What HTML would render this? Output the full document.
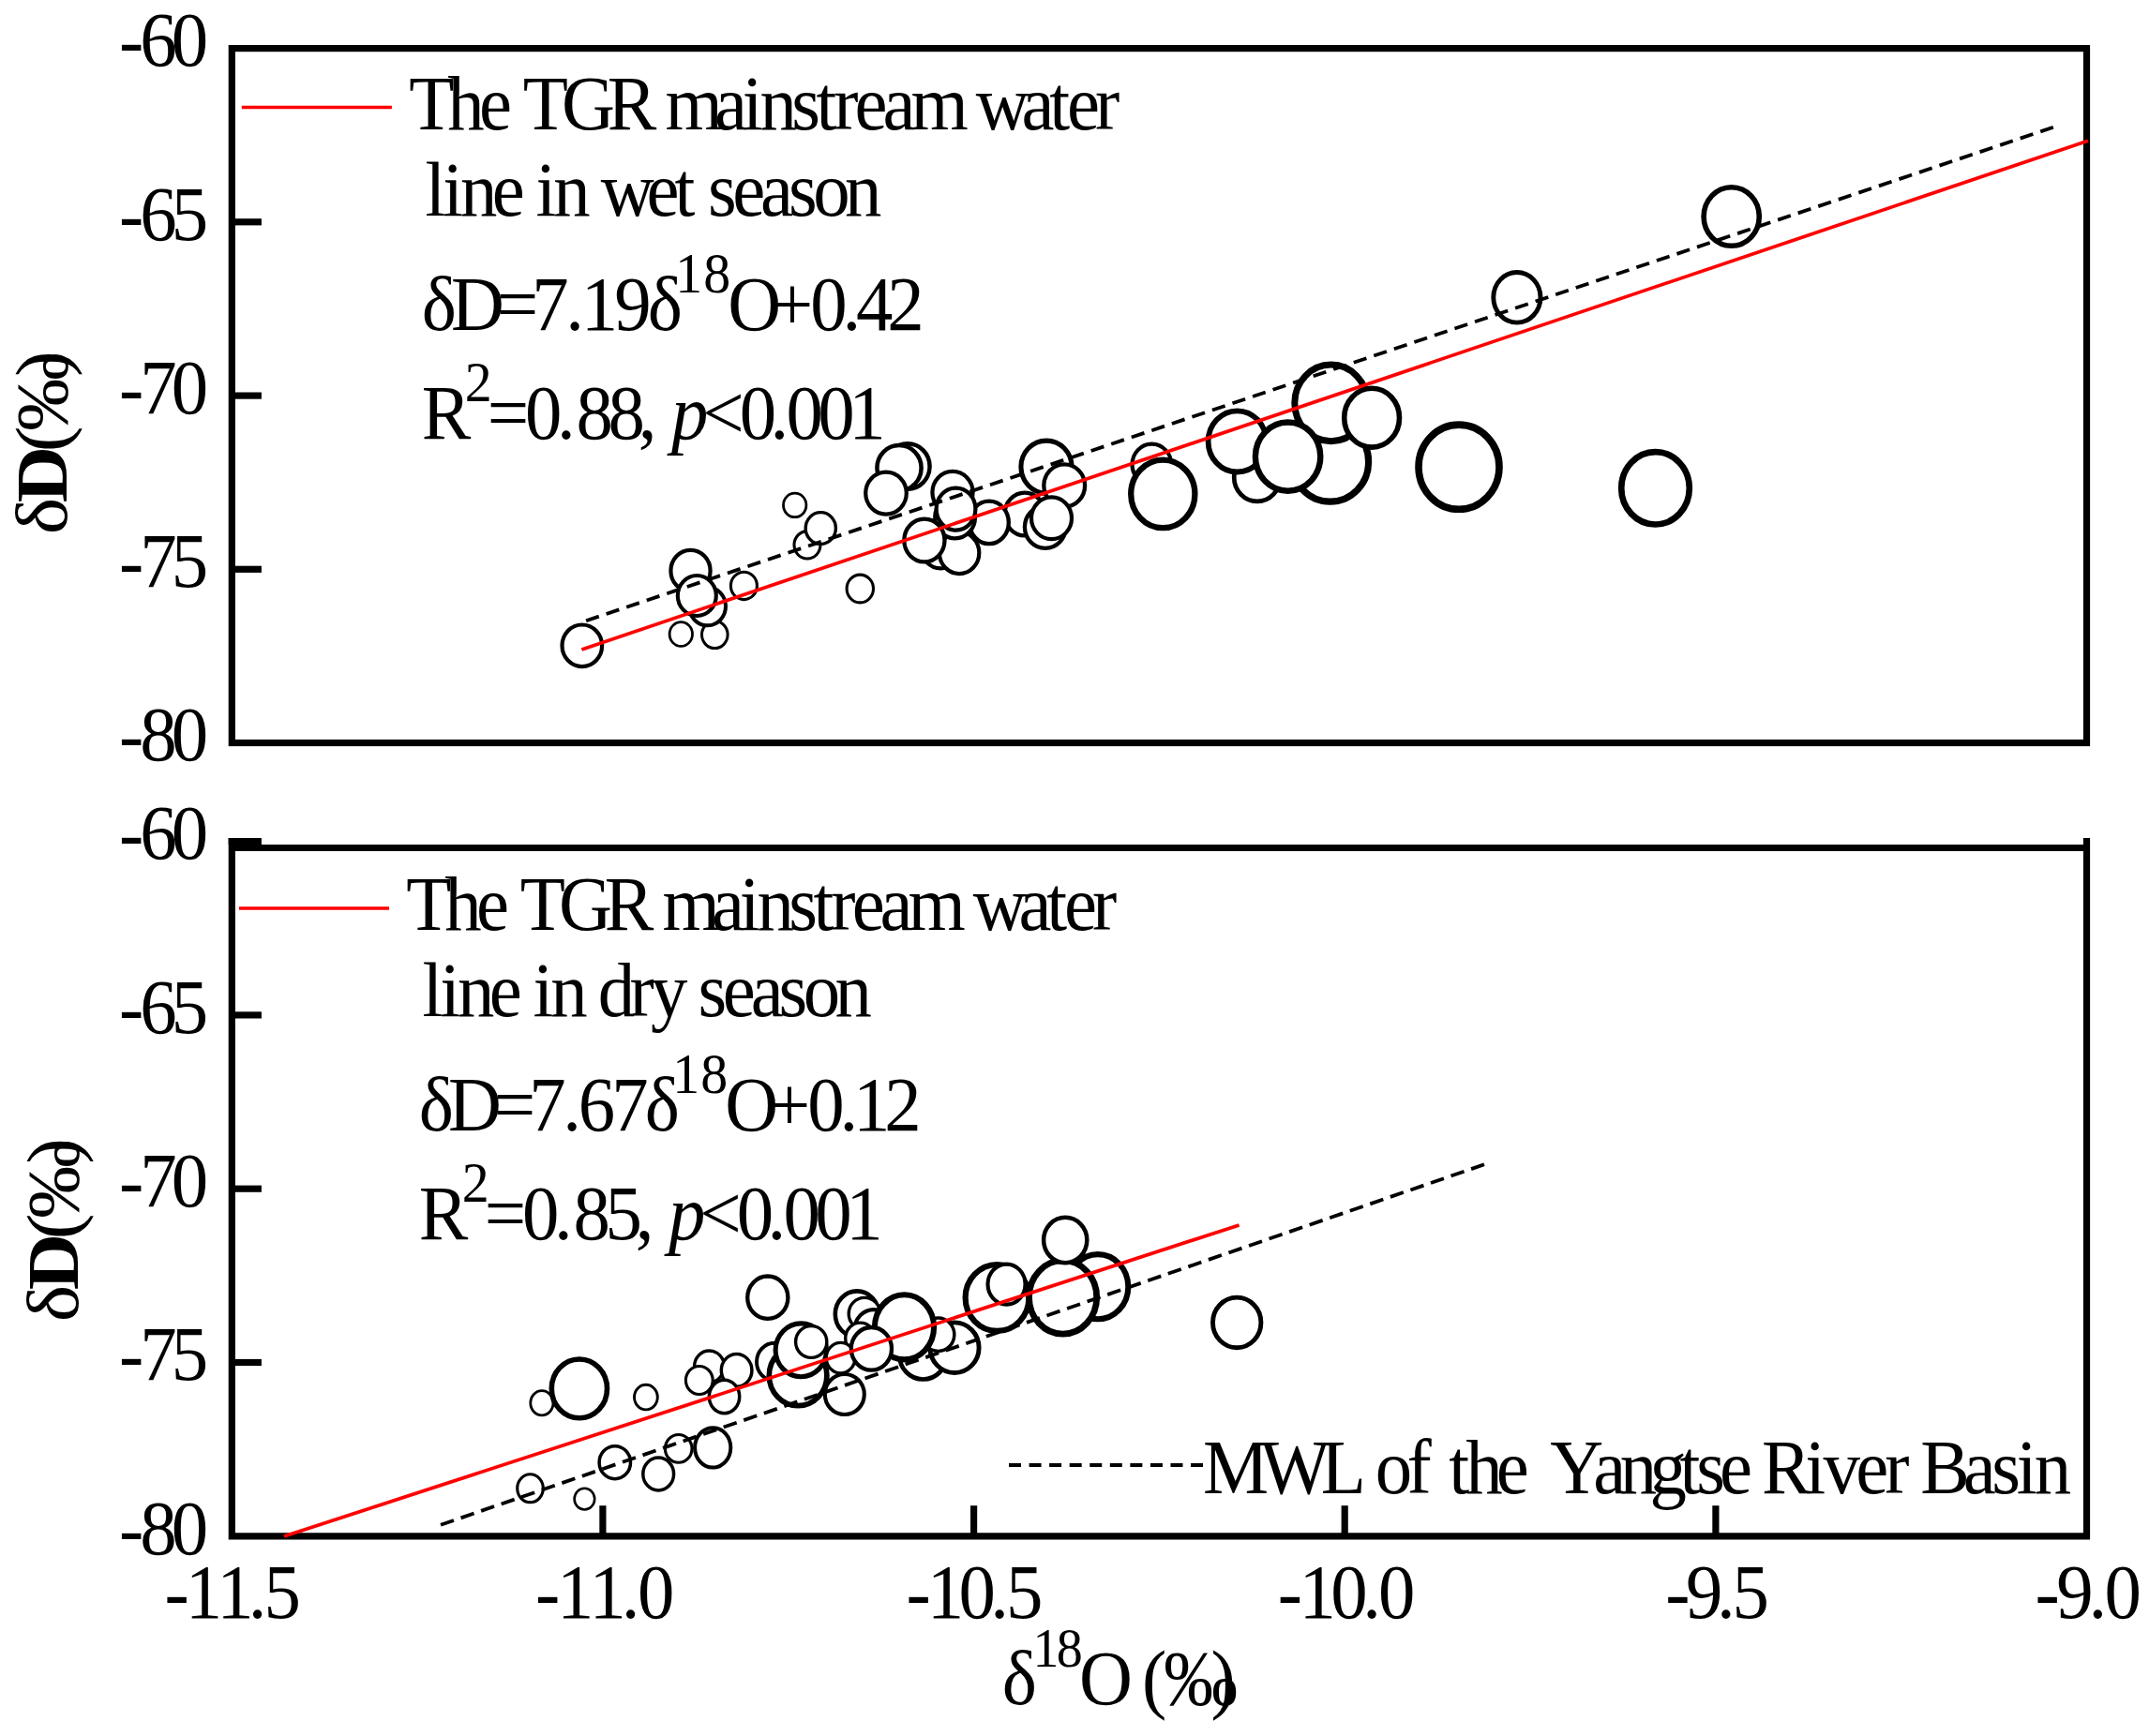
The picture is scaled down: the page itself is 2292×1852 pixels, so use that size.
<!DOCTYPE html>
<html><head><meta charset="utf-8"><title>TGR mainstream water line</title>
<style>html,body{margin:0;padding:0;background:#fff}svg{display:block}</style></head>
<body>
<svg width="2292" height="1852" viewBox="0 0 2292 1852" font-family='"Liberation Serif", "DejaVu Serif", serif' fill="#000">
<rect x="0" y="0" width="2292" height="1852" fill="#fff"/>
<style>text{stroke:none}</style>
<g fill="#fff" stroke="#000">
<ellipse cx="620.8" cy="688.8" rx="21.3" ry="22.3" stroke-width="4.2"/>
<ellipse cx="726.3" cy="676.5" rx="12.2" ry="12.9" stroke-width="2.8"/>
<ellipse cx="762.3" cy="677.1" rx="13.8" ry="14.5" stroke-width="3.0"/>
<ellipse cx="736.5" cy="608.9" rx="21.1" ry="22.1" stroke-width="4.2"/>
<ellipse cx="754.5" cy="646.8" rx="19.5" ry="20.5" stroke-width="4.0"/>
<ellipse cx="743.3" cy="635.5" rx="20.5" ry="21.5" stroke-width="4.1"/>
<ellipse cx="793.4" cy="624.9" rx="14.0" ry="14.7" stroke-width="3.1"/>
<ellipse cx="917.3" cy="628.0" rx="14.2" ry="14.9" stroke-width="3.1"/>
<ellipse cx="847.7" cy="538.9" rx="12.2" ry="12.8" stroke-width="2.8"/>
<ellipse cx="861.0" cy="581.3" rx="14.0" ry="14.7" stroke-width="3.1"/>
<ellipse cx="875.3" cy="563.5" rx="16.1" ry="16.9" stroke-width="3.4"/>
<ellipse cx="968.0" cy="497.5" rx="23.6" ry="24.2" stroke-width="4.5"/>
<ellipse cx="959.0" cy="499.3" rx="23.6" ry="24.2" stroke-width="4.5"/>
<ellipse cx="945.0" cy="526.1" rx="21.8" ry="22.5" stroke-width="4.2"/>
<ellipse cx="1116.0" cy="498.1" rx="27.1" ry="28.0" stroke-width="5.1"/>
<ellipse cx="1135.2" cy="518.0" rx="21.9" ry="22.7" stroke-width="4.3"/>
<ellipse cx="1003.5" cy="584.0" rx="21.4" ry="22.4" stroke-width="4.2"/>
<ellipse cx="1023.1" cy="589.8" rx="21.2" ry="22.3" stroke-width="4.2"/>
<ellipse cx="1093.0" cy="548.5" rx="21.5" ry="22.9" stroke-width="4.3"/>
<ellipse cx="1054.9" cy="557.4" rx="20.9" ry="22.7" stroke-width="4.3"/>
<ellipse cx="1114.8" cy="562.2" rx="21.9" ry="22.7" stroke-width="4.3"/>
<ellipse cx="1016.0" cy="525.3" rx="21.6" ry="22.4" stroke-width="4.2"/>
<ellipse cx="1018.6" cy="551.9" rx="21.4" ry="22.4" stroke-width="4.2"/>
<ellipse cx="1019.5" cy="543.1" rx="20.9" ry="22.5" stroke-width="4.2"/>
<ellipse cx="985.9" cy="576.5" rx="21.6" ry="22.9" stroke-width="4.3"/>
<ellipse cx="1121.5" cy="552.8" rx="21.5" ry="22.4" stroke-width="4.2"/>
<ellipse cx="1228.4" cy="495.6" rx="20.9" ry="21.9" stroke-width="4.2"/>
<ellipse cx="1240.3" cy="526.9" rx="34.1" ry="36.3" stroke-width="6.3"/>
<ellipse cx="1340.8" cy="509.2" rx="24.6" ry="25.6" stroke-width="4.7"/>
<ellipse cx="1319.5" cy="470.9" rx="30.9" ry="32.6" stroke-width="5.8"/>
<ellipse cx="1418.6" cy="492.8" rx="41.0" ry="42.4" stroke-width="7.2"/>
<ellipse cx="1419.6" cy="429.9" rx="38.8" ry="40.8" stroke-width="7.0"/>
<ellipse cx="1373.6" cy="487.1" rx="34.7" ry="36.6" stroke-width="6.4"/>
<ellipse cx="1463.1" cy="445.7" rx="29.4" ry="31.4" stroke-width="5.6"/>
<ellipse cx="1556.0" cy="498.2" rx="43.0" ry="45.1" stroke-width="7.6"/>
<ellipse cx="1617.9" cy="317.3" rx="25.1" ry="26.8" stroke-width="4.9"/>
<ellipse cx="1846.7" cy="231.0" rx="29.6" ry="31.3" stroke-width="5.6"/>
<ellipse cx="1765.5" cy="520.8" rx="36.3" ry="38.7" stroke-width="6.7"/>
<ellipse cx="565.5" cy="1587.8" rx="13.8" ry="15.0" stroke-width="3.1"/>
<ellipse cx="623.4" cy="1599.1" rx="10.8" ry="11.4" stroke-width="2.6"/>
<ellipse cx="655.8" cy="1560.2" rx="16.7" ry="17.5" stroke-width="3.5"/>
<ellipse cx="702.2" cy="1572.5" rx="16.4" ry="17.4" stroke-width="3.5"/>
<ellipse cx="723.7" cy="1545.4" rx="14.3" ry="14.9" stroke-width="3.1"/>
<ellipse cx="760.2" cy="1544.4" rx="19.1" ry="21.2" stroke-width="4.0"/>
<ellipse cx="577.9" cy="1496.7" rx="12.1" ry="13.1" stroke-width="2.8"/>
<ellipse cx="617.9" cy="1481.4" rx="29.6" ry="31.4" stroke-width="5.6"/>
<ellipse cx="688.9" cy="1490.6" rx="12.4" ry="13.3" stroke-width="2.9"/>
<ellipse cx="756.5" cy="1457.8" rx="15.9" ry="16.8" stroke-width="3.4"/>
<ellipse cx="745.8" cy="1472.5" rx="14.4" ry="15.0" stroke-width="3.1"/>
<ellipse cx="785.6" cy="1461.9" rx="16.3" ry="17.3" stroke-width="3.5"/>
<ellipse cx="772.5" cy="1490.0" rx="16.2" ry="17.7" stroke-width="3.5"/>
<ellipse cx="818.8" cy="1384.2" rx="21.6" ry="22.7" stroke-width="4.3"/>
<ellipse cx="826.1" cy="1452.9" rx="19.1" ry="20.1" stroke-width="3.9"/>
<ellipse cx="900.8" cy="1487.5" rx="21.0" ry="21.5" stroke-width="4.1"/>
<ellipse cx="851.1" cy="1467.5" rx="30.8" ry="32.1" stroke-width="5.7"/>
<ellipse cx="854.3" cy="1440.3" rx="27.2" ry="28.4" stroke-width="5.1"/>
<ellipse cx="865.2" cy="1431.5" rx="16.6" ry="16.9" stroke-width="3.4"/>
<ellipse cx="914.0" cy="1401.9" rx="23.2" ry="24.5" stroke-width="4.6"/>
<ellipse cx="922.0" cy="1401.5" rx="16.8" ry="17.1" stroke-width="3.4"/>
<ellipse cx="931.9" cy="1418.6" rx="20.5" ry="21.5" stroke-width="4.1"/>
<ellipse cx="917.5" cy="1427.7" rx="15.8" ry="16.6" stroke-width="3.4"/>
<ellipse cx="896.6" cy="1448.7" rx="15.3" ry="16.3" stroke-width="3.3"/>
<ellipse cx="984.5" cy="1445.9" rx="25.1" ry="25.6" stroke-width="4.7"/>
<ellipse cx="1018.0" cy="1437.7" rx="26.1" ry="26.8" stroke-width="4.9"/>
<ellipse cx="1000.6" cy="1423.8" rx="17.2" ry="17.7" stroke-width="3.5"/>
<ellipse cx="964.5" cy="1415.8" rx="31.6" ry="34.6" stroke-width="6.1"/>
<ellipse cx="929.4" cy="1438.8" rx="21.6" ry="22.8" stroke-width="4.3"/>
<ellipse cx="1063.5" cy="1384.5" rx="33.9" ry="35.4" stroke-width="6.2"/>
<ellipse cx="1073.5" cy="1370.1" rx="20.0" ry="21.5" stroke-width="4.1"/>
<ellipse cx="1170.9" cy="1372.7" rx="32.4" ry="34.6" stroke-width="6.1"/>
<ellipse cx="1133.6" cy="1383.9" rx="36.1" ry="39.2" stroke-width="6.8"/>
<ellipse cx="1136.2" cy="1323.0" rx="23.1" ry="24.2" stroke-width="4.5"/>
<ellipse cx="1319.2" cy="1410.9" rx="25.7" ry="26.8" stroke-width="4.9"/>
</g>
<g fill="none" stroke="#000" stroke-width="7.2" stroke-linecap="butt" stroke-linejoin="miter">
<rect x="247.3" y="51.6" width="1978.2" height="740.9"/>
<path d="M247.3 894.0 V1638.8 H2225.5 V894.0"/>
<line x1="247.3" y1="904.5" x2="2225.5" y2="904.5"/>
<line x1="247.3" y1="236.8" x2="278.9" y2="236.8"/>
<line x1="247.3" y1="422.1" x2="278.9" y2="422.1"/>
<line x1="247.3" y1="607.3" x2="278.9" y2="607.3"/>
<line x1="243.7" y1="897.6" x2="278.9" y2="897.6"/>
<line x1="247.3" y1="1082.9" x2="278.9" y2="1082.9"/>
<line x1="247.3" y1="1268.2" x2="278.9" y2="1268.2"/>
<line x1="247.3" y1="1453.5" x2="278.9" y2="1453.5"/>
<line x1="642.9" y1="1638.8" x2="642.9" y2="1606.2"/>
<line x1="1038.6" y1="1638.8" x2="1038.6" y2="1606.2"/>
<line x1="1434.2" y1="1638.8" x2="1434.2" y2="1606.2"/>
<line x1="1829.9" y1="1638.8" x2="1829.9" y2="1606.2"/>
</g>
<g fill="none" stroke-linecap="butt">
<line x1="620.4" y1="692.9" x2="2226.9" y2="150.2" stroke="#f00" stroke-width="3.7"/>
<line x1="625.1" y1="662.2" x2="2190.7" y2="135.5" stroke="#000" stroke-width="3.8" stroke-dasharray="14.4 8.33"/>
<line x1="302.9" y1="1639" x2="1321.6" y2="1306.9" stroke="#f00" stroke-width="3.7"/>
<line x1="470" y1="1626.8" x2="1583" y2="1242.3" stroke="#000" stroke-width="3.8" stroke-dasharray="14.8 8.0"/>
<line x1="257.8" y1="114.5" x2="417.9" y2="114.5" stroke="#f00" stroke-width="3.7"/>
<line x1="255" y1="969" x2="415" y2="969" stroke="#f00" stroke-width="3.7"/>
<line x1="1076" y1="1563" x2="1283.1" y2="1563" stroke="#000" stroke-width="3.9" stroke-dasharray="13 8.56"/>
</g>
<text transform="translate(0,70.30) scale(0.9500,1)" x="133.66 157.14 192.40" y="0" font-size="83.00">-60</text>
<text transform="translate(0,916.30) scale(0.9500,1)" x="133.66 157.14 192.40" y="0" font-size="83.00">-60</text>
<text transform="translate(0,255.52) scale(0.9500,1)" x="133.66 157.14 192.40" y="0" font-size="83.00">-65</text>
<text transform="translate(0,1101.60) scale(0.9500,1)" x="133.66 157.14 192.40" y="0" font-size="83.00">-65</text>
<text transform="translate(0,440.75) scale(0.9500,1)" x="133.66 157.14 192.40" y="0" font-size="83.00">-70</text>
<text transform="translate(0,1286.90) scale(0.9500,1)" x="133.66 157.14 192.40" y="0" font-size="83.00">-70</text>
<text transform="translate(0,625.98) scale(0.9500,1)" x="133.66 157.14 192.40" y="0" font-size="83.00">-75</text>
<text transform="translate(0,1472.20) scale(0.9500,1)" x="133.66 157.14 192.40" y="0" font-size="83.00">-75</text>
<text transform="translate(0,811.20) scale(0.9500,1)" x="133.66 157.14 192.40" y="0" font-size="83.00">-80</text>
<text transform="translate(0,1657.50) scale(0.9500,1)" x="133.66 157.14 192.40" y="0" font-size="83.00">-80</text>
<text transform="translate(0,1725.50) scale(0.9500,1)" x="184.81 208.24 243.42 278.60 296.19" y="0" font-size="83.00">-11.5</text>
<text transform="translate(0,1725.50) scale(0.9500,1)" x="601.13 625.25 661.45 697.66 715.77" y="0" font-size="83.00">-11.0</text>
<text transform="translate(0,1725.50) scale(0.9500,1)" x="1017.34 1040.92 1076.34 1111.75 1129.45" y="0" font-size="83.00">-10.5</text>
<text transform="translate(0,1725.50) scale(0.9500,1)" x="1434.60 1458.34 1493.99 1529.63 1547.45" y="0" font-size="83.00">-10.0</text>
<text transform="translate(0,1725.50) scale(0.9500,1)" x="1869.66 1892.77 1927.47 1944.82" y="0" font-size="83.00">-9.5</text>
<text transform="translate(0,1725.50) scale(0.9500,1)" x="2284.71 2308.69 2344.71 2362.71" y="0" font-size="83.00">-9.0</text>
<text transform="translate(0,137.80) scale(0.9500,1)" x="459.13 502.47 537.94 569.43 587.17 630.51 681.74 729.06 746.80 801.99 833.48 853.19 888.66 916.27 935.98 959.61 991.10 1022.59 1077.77 1095.51 1146.75 1178.24 1197.95 1229.44" y="0" font-size="83.00">The TGR mainstream water</text>
<text transform="translate(0,230.00) scale(0.9500,1)" x="477.50 497.21 516.92 552.39 583.88 601.62 621.33 656.80 674.54 725.78 757.27 776.98 794.72 822.33 853.82 885.31 912.91 948.39" y="0" font-size="83.00">line in wet season</text>
<text transform="translate(0,352.30) scale(0.9500,1)"><tspan x="473.30 506.24 557.76 597.06 634.95 652.39 689.75 727.20" y="0.00" font-size="83.00">δD=7.19δ</tspan><tspan x="758.11 789.68" y="-40.00" font-size="61.00">18</tspan><tspan x="817.12 866.18 909.68 945.79 961.01 995.93" y="0.00" font-size="83.00">O+0.42</tspan></text>
<text transform="translate(0,467.50) scale(0.9500,1)"><tspan x="473.50" y="0.00" font-size="83.00">R</tspan><tspan x="521.85" y="-39.90" font-size="61.00">2</tspan><tspan x="547.23 589.58 625.37 646.94 682.52 716.63 736.84" y="0.00" font-size="83.00">=0.88, </tspan><tspan x="753.81" y="0.00" font-size="83.00" font-style="italic">p</tspan><tspan x="788.81 830.21 864.84 882.73 918.21 953.02" y="0.00" font-size="83.00">&lt;0.001</tspan></text>
<text transform="translate(0,991.80) scale(0.9500,1)" x="455.97 499.31 534.79 566.28 584.01 627.35 678.59 725.91 743.64 798.83 830.32 850.03 885.50 913.11 932.83 956.45 987.94 1019.43 1074.62 1092.35 1143.59 1175.08 1194.79 1226.28" y="0" font-size="83.00">The TGR mainstream water</text>
<text transform="translate(0,1084.00) scale(0.9500,1)" x="474.34 494.05 513.76 549.23 580.72 598.46 618.17 653.65 671.38 706.86 730.48 765.96 783.69 811.30 842.79 874.28 901.89 937.37" y="0" font-size="83.00">line in dry season</text>
<text transform="translate(0,1206.30) scale(0.9500,1)"><tspan x="470.14 503.08 554.60 593.90 631.79 649.23 686.59 724.04" y="0.00" font-size="83.00">δD=7.67δ</tspan><tspan x="754.95 786.52" y="-40.00" font-size="61.00">18</tspan><tspan x="813.96 863.02 906.52 942.63 957.85 992.77" y="0.00" font-size="83.00">O+0.12</tspan></text>
<text transform="translate(0,1321.50) scale(0.9500,1)"><tspan x="470.35" y="0.00" font-size="83.00">R</tspan><tspan x="518.69" y="-39.90" font-size="61.00">2</tspan><tspan x="544.08 586.42 622.21 643.79 679.37 713.47 733.68" y="0.00" font-size="83.00">=0.85, </tspan><tspan x="750.65" y="0.00" font-size="83.00" font-style="italic">p</tspan><tspan x="785.66 827.05 861.69 879.58 915.05 949.86" y="0.00" font-size="83.00">&lt;0.001</tspan></text>
<text transform="translate(0,1592.80) scale(0.9500,1)" x="1350.45 1414.76 1483.02 1527.20 1544.00 1579.47 1603.10 1626.66 1645.62 1679.72 1710.00 1740.23 1788.75 1818.57 1852.16 1885.75 1904.42 1930.56 1960.38 1977.82 2026.59 2046.91 2083.47 2115.93 2140.28 2156.14 2204.05 2235.94 2263.90 2283.86" y="0" font-size="83.00">MWL of the Yangtse River Basin</text>
<text transform="translate(0,1818.30) scale(0.9500,1)"><tspan x="1125.09" y="0.00" font-size="83.00">δ</tspan><tspan x="1159.55 1186.17" y="-40.80" font-size="59.00">18</tspan><tspan x="1211.54 1271.58 1282.14 1306.70 1359.54" y="0.00" font-size="83.00">O (‰)</tspan></text>
<text transform="translate(70.50,0) rotate(-90) scale(1.0700,1)"><tspan x="-532.84" y="0.00" font-size="78.00">δ</tspan><tspan x="-501.18" y="0.00" font-size="78.00" font-weight="bold">D</tspan><tspan x="-450.72 -429.75 -375.60" y="0.00" font-size="78.00">(‰)</tspan></text>
<text transform="translate(82.70,0) rotate(-90) scale(1.0700,1)"><tspan x="-1317.89" y="0.00" font-size="78.00">δ</tspan><tspan x="-1286.23" y="0.00" font-size="78.00" font-weight="bold">D</tspan><tspan x="-1235.76 -1214.80 -1160.64" y="0.00" font-size="78.00">(‰)</tspan></text>
</svg>
</body></html>
